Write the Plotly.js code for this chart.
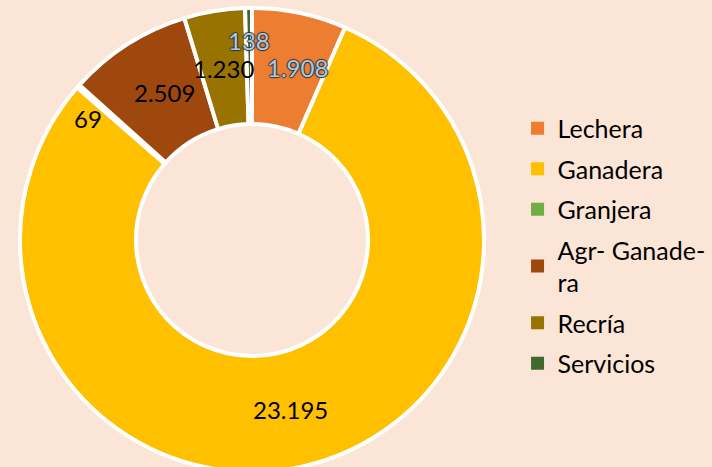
<!DOCTYPE html>
<html><head><meta charset="utf-8">
<script src="https://cdn.plot.ly/plotly-3.0.1.min.js"></script>
<style>html,body{margin:0;padding:0;background:#FBE5D6;overflow:hidden;width:712px;height:467px}</style>
</head><body>
<div id="chart"></div>
<script>
const categories = ['Lechera','Ganadera','Granjera','Agr- Ganade-<br>ra','Recría','Servicios'];
const values = [1908, 23195, 69, 2509, 1230, 138];
const colors = ['#ED7D31','#FFC000','#70AD47','#9E480E','#997300','#43682B'];
// label placement tweaks (radial fraction of outer radius, angular shift in degrees)
const labelRadius = [0.77, 0.75, 0.88, 0.74, 0.75, 0.86];
const labelShift = [3, 0, -5, 2, 0, 0];
const labelGlow = [true, false, false, false, false, true];

const W = 712, H = 472, R = 232, ML = 20, MT = 8;
const FONT = 'Lato, Carlito, sans-serif';
const fmt = v => String(v).replace(/\B(?=(\d{3})+(?!\d))/g, '.');

const pie = {
  type: 'pie',
  labels: categories,
  values: values,
  sort: false,
  direction: 'clockwise',
  rotation: 0,
  hole: 0.5,
  marker: {colors: colors, line: {color: '#FFFFFF', width: 4}},
  textinfo: 'none',
  showlegend: false,
  domain: {x: [0, (2*R)/(W-ML)], y: [0, 1]},
  hoverinfo: 'label+value'
};

// legend entries (one per category)
const legendTraces = categories.map((c, i) => ({
  type: 'scatter', mode: 'markers', x: [null], y: [null],
  name: c, legendgroup: 'g' + i,
  marker: {symbol: 'square', size: 13, color: colors[i]},
  hoverinfo: 'skip'
}));

// data labels placed from the slice angles computed from values
const total = values.reduce((a, b) => a + b, 0);
const cx = 0.5 * (2*R)/(W-ML);
const cy = 0.5;
let cum = 0;
const annotations = values.map((v, i) => {
  const mid = (cum + v / 2) / total * 360 + labelShift[i];
  cum += v;
  const a = mid * Math.PI / 180;
  const rpx = labelRadius[i] * R;
  const ann = {
    xref: 'paper', yref: 'paper',
    x: cx + rpx * Math.sin(a) / (W - ML),
    y: cy + rpx * Math.cos(a) / (H - MT),
    text: fmt(v), showarrow: false, xanchor: 'center', yanchor: 'middle',
    font: {family: FONT, size: 24, color: '#000000'}
  };
  if (labelGlow[i]) {
    ann.font.color = '#A9CCEB';
    ann.font.shadow = '-1px 0 1px #333, 1px 0 1px #333, 0 -1px 1px #333, 0 1px 1px #333';
  }
  return ann;
});

const layout = {
  width: W, height: H,
  margin: {l: ML, r: 0, t: MT, b: 0},
  paper_bgcolor: '#FBE5D6',
  plot_bgcolor: 'rgba(0,0,0,0)',
  showlegend: true,
  xaxis: {visible: false, domain: [0.8, 1]},
  yaxis: {visible: false},
  annotations: annotations,
  legend: {
    x: 0.719, xanchor: 'left', y: 0.487, yanchor: 'middle',
    tracegroupgap: 5, itemwidth: 30,
    font: {family: FONT, size: 25, color: '#000000'},
    bgcolor: 'rgba(0,0,0,0)'
  }
};
Plotly.newPlot('chart', [pie].concat(legendTraces), layout, {displayModeBar: false, staticPlot: true});
</script>
</body></html>
